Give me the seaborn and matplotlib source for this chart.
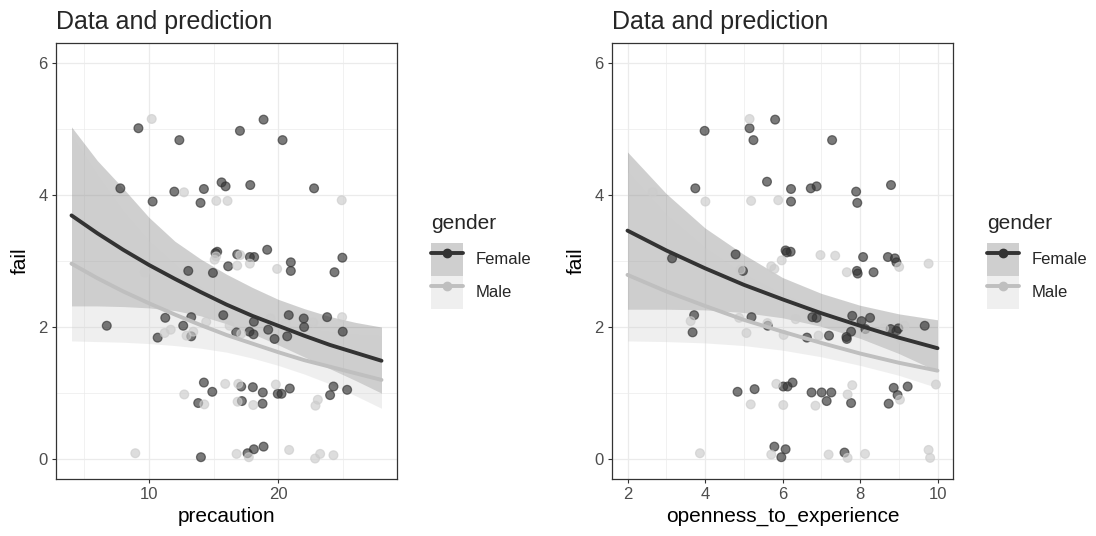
import numpy as np
import pandas as pd
import matplotlib
matplotlib.use("Agg")
import matplotlib.pyplot as plt
from matplotlib.lines import Line2D
from matplotlib.patches import Patch
from matplotlib.legend_handler import HandlerTuple
import seaborn as sns

# ---- data ----
groups = ["Female", "Male"]

# left panel: jittered observations (precaution vs fail)
prec_female_x = [9.18, 17.04, 18.87, 12.35, 20.34, 7.78, 11.96, 14.25, 15.62, 15.93, 17.84, 22.78,
                 10.28, 13.99, 15.15, 15.28, 16.83, 17.81, 18.14, 19.15, 20.98, 20.98, 24.97, 24.36,
                 13.04, 14.95, 16.13, 6.73, 11.26, 12.65, 13.27, 13.27, 10.67, 15.75, 16.75, 17.78,
                 18.09, 18.12, 19.23, 19.72, 20.70, 20.82, 21.98, 22.01, 23.79, 25.00, 14.25, 14.90,
                 13.81, 17.14, 17.19, 18.04, 18.81, 18.79, 19.97, 20.26, 20.90, 24.28, 24.02, 25.34,
                 14.02, 17.63, 18.12, 18.87]
prec_female_y = [5.01, 4.97, 5.14, 4.83, 4.83, 4.10, 4.05, 4.09, 4.19, 4.13, 4.15, 4.10,
                 3.90, 3.88, 3.12, 3.14, 3.10, 3.06, 3.06, 3.17, 2.98, 2.85, 3.05, 2.83,
                 2.85, 2.82, 2.92, 2.02, 2.14, 2.02, 2.15, 1.86, 1.84, 2.18, 1.92, 1.93,
                 1.89, 2.08, 1.96, 1.82, 1.86, 2.18, 2.13, 2.00, 2.15, 1.93, 1.16, 1.02,
                 0.85, 1.10, 0.88, 1.09, 1.01, 0.84, 0.99, 0.99, 1.07, 1.10, 0.97, 1.05,
                 0.03, 0.09, 0.15, 0.19]
prec_male_x = [10.21, 12.71, 15.21, 16.08, 24.92, 9.69, 15.08, 15.20, 16.83, 17.06, 17.81, 19.92,
               11.21, 11.68, 12.91, 13.43, 14.43, 16.24, 17.14, 19.41, 20.57, 22.71, 24.95,
               12.73, 14.28, 15.90, 16.91, 16.86, 18.07, 19.82, 23.07, 22.89,
               8.94, 16.78, 17.73, 20.85, 22.86, 23.25, 24.28]
prec_male_y = [5.15, 4.04, 3.91, 3.91, 3.92, 2.83, 3.02, 3.07, 2.93, 3.09, 2.96, 2.88,
               1.91, 1.96, 1.87, 1.93, 2.08, 2.02, 1.90, 2.13, 2.05, 2.07, 2.15,
               0.98, 0.83, 1.14, 1.14, 0.87, 0.82, 1.13, 0.90, 0.81,
               0.09, 0.08, 0.03, 0.14, 0.01, 0.08, 0.06]

# left panel: model prediction with interval
prec_grid = [4, 6, 8, 10, 12, 14, 16, 18, 20, 22, 24, 26, 28]
prec_fit_female = [3.69, 3.42, 3.17, 2.94, 2.73, 2.53, 2.34, 2.17, 2.02, 1.87, 1.73, 1.61, 1.49]
prec_lo_female = [2.32, 2.32, 2.31, 2.29, 2.25, 2.17, 2.05, 1.90, 1.73, 1.55, 1.37, 1.19, 1.00]
prec_hi_female = [5.03, 4.52, 4.10, 3.66, 3.30, 3.03, 2.80, 2.60, 2.42, 2.28, 2.16, 2.07, 2.00]
prec_fit_male = [2.96, 2.74, 2.54, 2.36, 2.19, 2.03, 1.88, 1.75, 1.62, 1.50, 1.40, 1.30, 1.20]
prec_lo_male = [1.79, 1.78, 1.77, 1.75, 1.72, 1.68, 1.62, 1.53, 1.42, 1.29, 1.14, 0.96, 0.77]
prec_hi_male = [4.90, 4.30, 3.75, 3.30, 2.95, 2.60, 2.30, 2.15, 2.05, 1.98, 1.93, 1.89, 1.87]

# right panel: jittered observations (openness_to_experience vs fail)
open_female_x = [3.99, 5.15, 5.25, 5.81, 7.28, 3.75, 5.60, 6.22, 6.22, 6.73, 6.88, 7.90,
                 7.93, 8.80, 3.15, 4.79, 4.98, 6.08, 6.11, 6.21, 8.08, 8.72, 8.90, 8.94,
                 7.92, 7.94, 8.35, 3.72, 3.68, 5.20, 5.62, 6.77, 6.88, 6.63, 7.20, 7.65,
                 7.66, 7.77, 7.80, 8.04, 8.14, 8.26, 8.79, 8.94, 8.99, 9.67, 4.84, 5.28,
                 6.02, 6.13, 6.26, 6.75, 7.01, 7.26, 7.14, 7.77, 8.74, 8.87, 8.97, 9.23,
                 5.79, 6.08, 5.97, 7.60]
open_female_y = [4.97, 5.01, 4.83, 5.14, 4.83, 4.10, 4.20, 4.09, 3.90, 4.10, 4.13, 4.05,
                 3.88, 4.15, 3.04, 3.10, 2.85, 3.16, 3.13, 3.14, 3.06, 3.06, 3.04, 2.98,
                 2.85, 2.81, 2.83, 2.18, 1.92, 2.15, 2.02, 2.15, 2.14, 1.84, 1.87, 1.85,
                 1.82, 1.93, 2.17, 2.09, 1.97, 2.14, 1.97, 1.94, 1.98, 2.02, 1.02, 1.06,
                 1.10, 1.10, 1.16, 1.01, 1.01, 1.01, 0.88, 0.85, 0.84, 1.08, 0.97, 1.10,
                 0.19, 0.15, 0.03, 0.10]
open_male_x = [5.15, 2.65, 4.01, 5.19, 5.89, 4.92, 5.71, 5.79, 5.98, 6.98, 7.36, 7.66,
               9.01, 9.77, 3.63, 4.88, 5.07, 5.61, 6.03, 6.34, 6.93, 8.17, 8.62, 9.06,
               9.15, 5.84, 5.18, 6.02, 6.85, 7.68, 7.80, 9.03, 9.96,
               3.87, 5.71, 7.19, 7.68, 8.13, 9.77, 9.81]
open_male_y = [5.15, 4.04, 3.90, 3.91, 3.92, 2.87, 2.92, 2.88, 3.01, 3.09, 3.08, 2.83,
               2.91, 2.96, 2.09, 2.14, 1.91, 2.06, 1.88, 2.12, 1.87, 1.90, 1.98, 1.82,
               2.02, 1.14, 0.83, 0.82, 0.81, 0.98, 1.12, 0.90, 1.13,
               0.09, 0.07, 0.07, 0.02, 0.08, 0.14, 0.02]

# right panel: model prediction with interval
open_grid = [2, 3, 4, 5, 6, 7, 8, 9, 10]
open_fit_female = [3.46, 3.16, 2.89, 2.64, 2.42, 2.21, 2.02, 1.84, 1.68]
open_lo_female = [2.27, 2.27, 2.26, 2.22, 2.14, 2.01, 1.83, 1.60, 1.33]
open_hi_female = [4.65, 4.02, 3.50, 3.10, 2.75, 2.51, 2.33, 2.20, 2.11]
open_fit_male = [2.79, 2.54, 2.32, 2.11, 1.93, 1.76, 1.60, 1.46, 1.34]
open_lo_male = [1.79, 1.78, 1.76, 1.72, 1.65, 1.55, 1.42, 1.27, 1.08]
open_hi_male = [4.35, 3.70, 3.20, 2.80, 2.50, 2.25, 2.05, 1.85, 1.68]

# ---- styling ----
line_col = {"Female": "#333333", "Male": "#bfbfbf"}
point_col = {"Female": "#333333", "Male": "#cccccc"}
ribbon_col = {"Female": ("#333333", 0.23), "Male": ("#cccccc", 0.3)}

sns.set_theme(style="white")
plt.rcParams["font.family"] = ["Liberation Sans", "DejaVu Sans"]


def obs_frame(fx, fy, mx, my, xname):
    return pd.DataFrame({
        xname: list(fx) + list(mx),
        "fail": list(fy) + list(my),
        "gender": ["Female"] * len(fx) + ["Male"] * len(mx),
    })


def pred_frame(grid, fits, los, his, xname):
    rows = []
    for g, fit, lo, hi in zip(groups, fits, los, his):
        for x, f, l, h in zip(grid, fit, lo, hi):
            rows.append({xname: x, "fit": f, "lo": l, "hi": h, "gender": g})
    return pd.DataFrame(rows)


def draw_panel(ax, obs, pred, xname, xlim, xmajor, xminor):
    # ribbons: Female first, Male on top
    for g in groups:
        sub = pred[pred["gender"] == g]
        c, a = ribbon_col[g]
        ax.fill_between(sub[xname], sub["lo"], sub["hi"], color=c, alpha=a,
                        linewidth=0, zorder=1)
    sns.scatterplot(data=obs, x=xname, y="fail", hue="gender", palette=point_col,
                    hue_order=groups, alpha=0.65, s=40, edgecolor="face",
                    linewidth=0.9, legend=False, ax=ax, zorder=3)
    sns.lineplot(data=pred, x=xname, y="fit", hue="gender", palette=line_col,
                 hue_order=groups, estimator=None, linewidth=2.8, legend=False,
                 ax=ax, zorder=4)

    ax.set_xlim(*xlim)
    ax.set_ylim(-0.3, 6.3)
    ax.set_xticks(xmajor)
    ax.set_xticks(xminor, minor=True)
    ax.set_yticks([0, 2, 4, 6])
    ax.set_yticks([1, 3, 5], minor=True)
    ax.grid(True, which="major", color="#ebebeb", linewidth=0.9)
    ax.grid(True, which="minor", color="#ebebeb", linewidth=0.5)
    ax.set_axisbelow(True)
    for sp in ax.spines.values():
        sp.set_color("#333333")
        sp.set_linewidth(0.9)
    ax.tick_params(which="major", length=3, width=0.8, color="#333333",
                   labelsize=12, labelcolor="#4d4d4d", pad=3, left=True, bottom=True)
    ax.tick_params(which="minor", length=0)
    ax.set_xlabel(xname, fontsize=15, color="black", labelpad=3)
    ax.set_ylabel("fail", fontsize=15, color="black", labelpad=6)
    ax.set_title("Data and prediction", loc="left", fontsize=18, pad=10)


def add_legend(fig, x0, y0):
    handles = []
    for g in groups:
        c, a = ribbon_col[g]
        patch = Patch(facecolor=c, alpha=a, edgecolor="none")
        ln = Line2D([], [], color=line_col[g], linewidth=2.8, marker="o",
                    markersize=6, markerfacecolor=line_col[g], markeredgecolor=line_col[g])
        handles.append((patch, ln))
    leg = fig.legend(handles, groups, handler_map={tuple: HandlerTuple(ndivide=1, pad=0)},
                     loc="upper left", bbox_to_anchor=(x0, y0), frameon=False,
                     title="gender", fontsize=12, title_fontsize=15,
                     handlelength=1.9, handleheight=2.67, labelspacing=0.0,
                     handletextpad=0.8, borderpad=0, borderaxespad=0)
    leg._legend_box.align = "left"
    leg._legend_box.sep = 7
    return leg


fig = plt.figure(figsize=(10.96, 5.36), dpi=100)
ax1 = fig.add_axes([56 / 1096, 57 / 536, 341 / 1096, 436 / 536])
ax2 = fig.add_axes([612 / 1096, 57 / 536, 341 / 1096, 436 / 536])

obs1 = obs_frame(prec_female_x, prec_female_y, prec_male_x, prec_male_y, "precaution")
pred1 = pred_frame(prec_grid, [prec_fit_female, prec_fit_male],
                   [prec_lo_female, prec_lo_male], [prec_hi_female, prec_hi_male], "precaution")
draw_panel(ax1, obs1, pred1, "precaution", (2.8, 29.2), [10, 20], [5, 15, 25])

obs2 = obs_frame(open_female_x, open_female_y, open_male_x, open_male_y, "openness_to_experience")
pred2 = pred_frame(open_grid, [open_fit_female, open_fit_male],
                   [open_lo_female, open_lo_male], [open_hi_female, open_hi_male],
                   "openness_to_experience")
draw_panel(ax2, obs2, pred2, "openness_to_experience", (1.6, 10.4),
           [2, 4, 6, 8, 10], [3, 5, 7, 9])

add_legend(fig, 431 / 1096, 1 - 214 / 536)
add_legend(fig, 987 / 1096, 1 - 214 / 536)

fig.savefig("out.png", dpi=100)
